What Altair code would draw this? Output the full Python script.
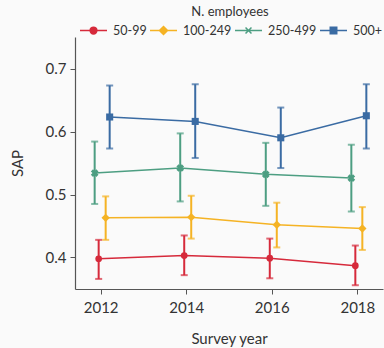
import altair as alt
import pandas as pd

groups = ["50-99", "100-249", "250-499", "500+"]
years = [2012, 2014, 2016, 2018]

sap_50_99 = [0.398, 0.403, 0.399, 0.387]
lo_50_99 = [0.366, 0.372, 0.367, 0.356]
hi_50_99 = [0.428, 0.435, 0.430, 0.419]

sap_100_249 = [0.463, 0.464, 0.452, 0.446]
lo_100_249 = [0.428, 0.430, 0.416, 0.412]
hi_100_249 = [0.497, 0.498, 0.487, 0.480]

sap_250_499 = [0.534, 0.542, 0.532, 0.526]
lo_250_499 = [0.485, 0.489, 0.482, 0.473]
hi_250_499 = [0.584, 0.597, 0.582, 0.579]

sap_500 = [0.623, 0.616, 0.590, 0.625]
lo_500 = [0.573, 0.558, 0.542, 0.573]
hi_500 = [0.673, 0.675, 0.638, 0.675]

series = {
    "50-99": (sap_50_99, lo_50_99, hi_50_99),
    "100-249": (sap_100_249, lo_100_249, hi_100_249),
    "250-499": (sap_250_499, lo_250_499, hi_250_499),
    "500+": (sap_500, lo_500, hi_500),
}
rows = []
for g in groups:
    s, lo, hi = series[g]
    for yr, a, b, c in zip(years, s, lo, hi):
        rows.append({"group": g, "year": yr, "sap": a, "lo": b, "hi": c})
df = pd.DataFrame(rows)

colors = {"50-99": "#d62a3b", "100-249": "#f5b324", "250-499": "#4d9e82", "500+": "#3a6ba3"}
offsets = {"50-99": -2, "100-249": 5, "250-499": -6, "500+": 9}
shapes = {"50-99": ("circle", 0, 45), "100-249": ("diamond", 0, 70),
          "250-499": ("cross", 45, 60), "500+": ("square", 0, 50)}
legend_paths = [
    "M-1,0H1M-0.25,0A0.25,0.25,0,1,0,0.25,0A0.25,0.25,0,1,0,-0.25,0Z",
    "M-1,0H1M0,-0.3L0.3,0L0,0.3L-0.3,0Z",
    "M-1,0H1M-0.22,-0.22L0.22,0.22M-0.22,0.22L0.22,-0.22",
    "M-1,0H1M-0.24,-0.24H0.24V0.24H-0.24Z",
]

xscale = alt.Scale(domain=[2011.4, 2018.6], nice=False, zero=False)
yscale = alt.Scale(domain=[0.35, 0.75], nice=False, zero=False)
xaxis = alt.Axis(values=years, format="d", title="Survey year", tickSize=5,
                 labelPadding=6, titlePadding=16)
yaxis = alt.Axis(values=[0.4, 0.5, 0.6, 0.7], format=".1f", title="SAP", tickSize=5,
                 labelPadding=4, titlePadding=20)
X = alt.X("year:Q", scale=xscale, axis=xaxis)

layers = []
for g in groups:
    c = colors[g]
    off = offsets[g]
    base = alt.Chart(df).transform_filter(alt.datum.group == g)
    layers.append(base.mark_line(color=c, strokeWidth=1.5, xOffset=off).encode(
        x=X, y=alt.Y("sap:Q", scale=yscale, axis=yaxis, title="SAP")))
    layers.append(base.mark_rule(color=c, strokeWidth=2, xOffset=off).encode(
        x=X, y=alt.Y("lo:Q", scale=yscale, title="SAP"), y2="hi:Q"))
    for fld in ["lo", "hi"]:
        layers.append(base.mark_tick(color=c, orient="horizontal", size=7, thickness=2,
                                     xOffset=off).encode(
            x=X, y=alt.Y(f"{fld}:Q", scale=yscale, title="SAP")))
for g in groups:
    c = colors[g]
    off = offsets[g]
    shp, ang, sz = shapes[g]
    base = alt.Chart(df).transform_filter(alt.datum.group == g)
    layers.append(base.mark_point(shape=shp, angle=ang, size=sz, filled=True, color=c,
                                  opacity=1, xOffset=off).encode(
        x=X, y=alt.Y("sap:Q", scale=yscale, title="SAP")))

leg = alt.Legend(title="N. employees", orient="none", legendX=4, legendY=-31,
                 direction="horizontal", columns=4, gridAlign="none", titleAnchor="middle",
                 titleFontSize=13, titleFontWeight="normal", labelFontSize=12.5,
                 symbolSize=729, symbolStrokeWidth=1.5, columnPadding=0,
                 labelOffset=5, titlePadding=-3)
cscale = alt.Scale(domain=groups, range=[colors[g] for g in groups])
legend_layer = alt.Chart(df).mark_point(filled=True, size=729, opacity=1, strokeWidth=1.5).encode(
    x=X, y=alt.Y("sap:Q", scale=yscale, title="SAP"),
    fill=alt.Fill("group:N", scale=cscale, legend=leg),
    stroke=alt.Stroke("group:N", scale=cscale, legend=leg),
    shape=alt.Shape("group:N", scale=alt.Scale(domain=groups, range=legend_paths), legend=leg),
).transform_filter("false")

chart = alt.layer(*layers, legend_layer).properties(
    width=308, height=252,
    autosize=alt.AutoSizeParams(type="none"),
    padding={"left": 75, "top": 37, "right": 1, "bottom": 59},
    background="#fafafa",
).configure_view(stroke=None).configure_axis(
    grid=False, domainColor="#555", tickColor="#555", labelColor="#333",
    titleColor="#333", labelFont="Lato", titleFont="Lato", labelFontSize=15,
    titleFontSize=15, titleFontWeight="normal", domainWidth=1.2,
).configure_legend(
    labelFont="Lato", titleFont="Lato", labelColor="#333", titleColor="#333",
    titleFontSize=13, titleFontWeight="normal", labelFontSize=12.5,
)

chart.save("out.html", embed_options={"renderer": "svg", "actions": False})
